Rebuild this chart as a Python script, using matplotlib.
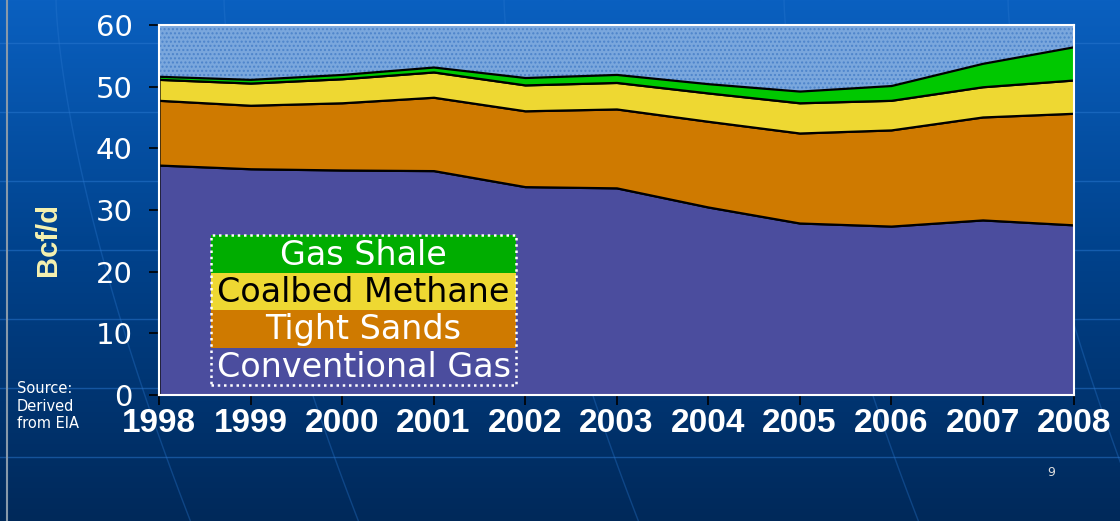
import matplotlib
matplotlib.use("Agg")
import matplotlib.pyplot as plt
import numpy as np
from matplotlib.patches import Rectangle

# production by source, Bcf/d
years = [1998, 1999, 2000, 2001, 2002, 2003, 2004, 2005, 2006, 2007, 2008]
conventional = [37.3, 36.7, 36.5, 36.4, 33.8, 33.6, 30.5, 27.9, 27.4, 28.4, 27.6]
tight_sands = [10.5, 10.3, 10.9, 11.9, 12.3, 12.8, 13.9, 14.6, 15.6, 16.7, 18.1]
coalbed = [3.4, 3.6, 3.9, 4.1, 4.2, 4.3, 4.6, 4.9, 4.8, 4.9, 5.4]
gas_shale = [0.5, 0.6, 0.7, 0.8, 1.2, 1.3, 1.5, 1.9, 2.4, 3.8, 5.4]

series_names = ["Conventional Gas", "Tight Sands", "Coalbed Methane", "Gas Shale"]
series_colors = ["#4b4d9e", "#cf7a00", "#eed832", "#00c800"]
legend_colors = ["#4b4d9e", "#cf7a00", "#eed832", "#00ad00"]
legend_text_colors = ["white", "white", "black", "white"]
yticks = [0, 10, 20, 30, 40, 50, 60]

fig = plt.figure(figsize=(11.2, 5.21), dpi=100)

# slide background: blue gradient with faint grid lines
bg = fig.add_axes([0, 0, 1, 1], zorder=-10)
grad = np.linspace(0, 1, 256).reshape(-1, 1)
cmap = matplotlib.colors.LinearSegmentedColormap.from_list(
    "slide", ["#0a60c0", "#00418a", "#00295a"])
bg.imshow(grad, aspect="auto", cmap=cmap, extent=[0, 1, 0, 1], origin="upper")
for yy in [43, 112, 181, 250, 319, 388, 457]:
    bg.axhline(1 - yy / 521, color="#2a78d0", lw=1, alpha=0.5)
t = np.linspace(0, 1, 50)
for x0 in [0.05, 0.2, 0.45, 0.7, 0.9]:
    bg.plot(x0 + 0.12 * t ** 1.5, 1 - t, color="#2a78d0", lw=1, alpha=0.35)
bg.axvline(0.006, color="#8899aa", lw=1.5)
bg.set_xlim(0, 1)
bg.set_ylim(0, 1)
bg.axis("off")

ax = fig.add_axes([0.142, 0.2418, 0.817, 0.710])
stack = np.vstack([conventional, tight_sands, coalbed, gas_shale])
top = stack.sum(axis=0)
ax.fill_between(years, top, 60, facecolor="#7aa7dd", edgecolor="#4d84cb",
                hatch="....", linewidth=0)
ax.stackplot(years, conventional, tight_sands, coalbed, gas_shale,
             colors=series_colors, edgecolor="black", linewidth=1.6)

ax.set_xlim(1998, 2008)
ax.set_ylim(0, 60)
ax.set_xticks(years)
ax.set_xticklabels([str(y) for y in years], fontfamily="Liberation Sans",
                   fontweight="bold", fontsize=24, color="white")
ax.set_yticks(yticks)
ax.set_yticklabels([str(v) for v in yticks], fontsize=21, color="white")
ax.tick_params(axis="both", direction="out", length=7, width=1.2,
               color="black")
ax.tick_params(axis="x", pad=2)
ax.tick_params(axis="y", pad=12)
for sp in ax.spines.values():
    sp.set_color("white")
    sp.set_linewidth(1.5)

ax.set_ylabel("Bcf/d", fontsize=21, fontweight="bold", color="#f6f2b0",
              fontfamily="Liberation Sans")
ax.yaxis.set_label_coords(-0.106, 0.42)

# legend box
lx0, lx1 = 0.057, 0.390
ly0, ly1 = 0.027, 0.432
rh = (ly1 - ly0) / 4
for i, name in enumerate(series_names):
    y0 = ly0 + i * rh
    ax.add_patch(Rectangle((lx0, y0), lx1 - lx0, rh, transform=ax.transAxes,
                           facecolor=legend_colors[i], edgecolor="none",
                           zorder=5))
    ax.text((lx0 + lx1) / 2, y0 + rh / 2 - 0.003, name, transform=ax.transAxes,
            ha="center", va="center", fontsize=24,
            color=legend_text_colors[i], zorder=6)
ax.add_patch(Rectangle((lx0, ly0), lx1 - lx0, ly1 - ly0,
                       transform=ax.transAxes, facecolor="none",
                       edgecolor="white", linestyle=(0, (1, 1.5)),
                       linewidth=1.8, zorder=7))

fig.text(0.015, 0.268, "Source:\nDerived\nfrom EIA", fontsize=10.5,
         color="white", va="top", linespacing=1.2)
fig.text(0.935, 0.087, "9", fontsize=9, color="#dddddd")

fig.savefig("out.png", dpi=100)
